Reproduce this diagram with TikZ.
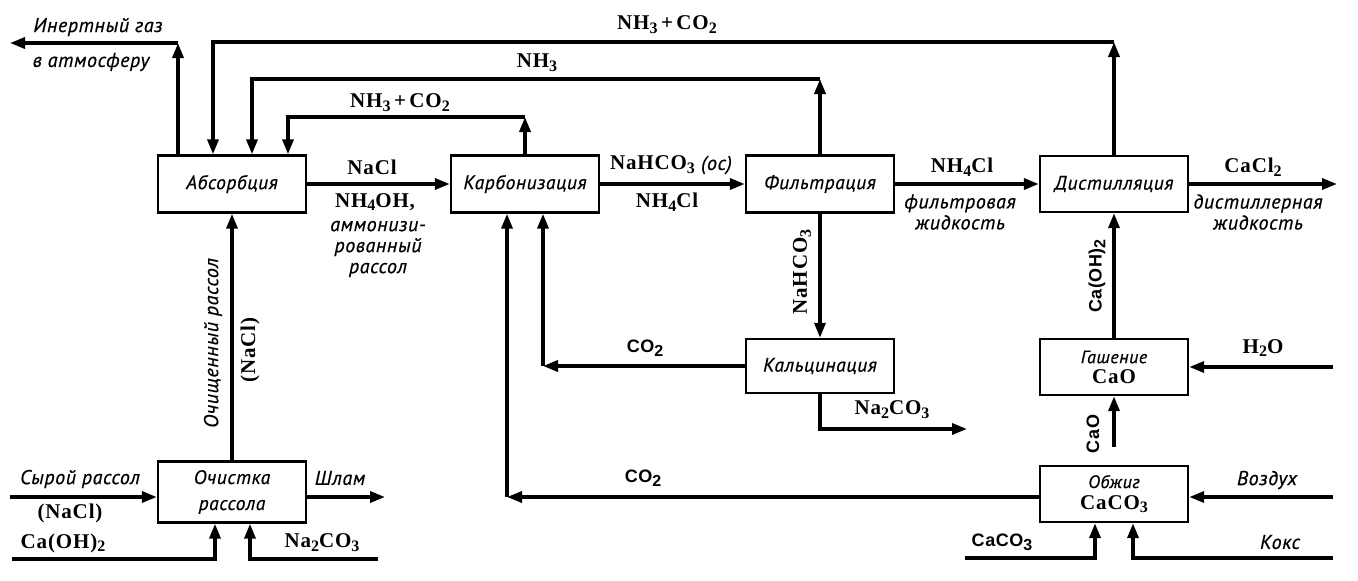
\documentclass[tikz,border=0pt]{standalone}
\usepackage{fontspec}
\setmainfont{Liberation Serif}[LetterSpace=4]
\newfontfamily\labf{PT Sans}[LetterSpace=3,FakeBold=0.5]
\newfontfamily\sfbf{Liberation Sans}[LetterSpace=3]
\usetikzlibrary{arrows.meta}
\newcommand\sbs[1]{\raisebox{-0.4ex}{\fontsize{16}{16}\selectfont #1}}
\tikzset{
  box/.style={draw, line width=2.4pt, minimum width=148pt, minimum height=57pt, inner sep=0pt, align=center, font=\labf\itshape\fontsize{19.5}{26}\selectfont},
  flow/.style={line width=3.4pt, -{Triangle[length=15pt,width=11pt]}},
  fml/.style={inner sep=0pt, font=\fontsize{21}{22}\selectfont\bfseries},
  sfml/.style={inner sep=0pt, font=\sfbf\fontsize{18}{22}\selectfont\bfseries},
  lab/.style={inner sep=0pt, align=center, font=\labf\itshape\fontsize{20}{21}\selectfont},
}
\begin{document}
\begin{tikzpicture}[x=1pt,y=-1pt]
\useasboundingbox (0,0) rectangle (1358,581);
\fill[white] (0,0) rectangle (1358,581);
% boxes
\node[box] (abs) at (232,184) {Абсорбция};
\node[box] (karb) at (525,184) {Карбонизация};
\node[box] (filt) at (820,184) {Фильтрация};
\node[box, minimum height=56pt] (dist) at (1114,184) {Дистилляция};
\node[box, minimum height=54pt] (kalc) at (820,366) {Кальцинация};
\node[box, minimum height=56pt, font=\labf\itshape\fontsize{18}{20}\selectfont] (gash) at (1114,367) {Гашение\\{\normalfont\fontsize{21}{20}\selectfont\bfseries CaO}};
\node[box, minimum height=56pt, font=\labf\itshape\fontsize{18}{21}\selectfont] (obzh) at (1114,494) {Обжиг\\{\normalfont\fontsize{21}{20}\selectfont\bfseries CaCO\sbs{3}}};
\node[box, minimum height=61pt, font=\labf\itshape\fontsize{19.5}{26}\selectfont] (ochi) at (232,492) {Очистка\\рассола};
% coordinates
\coordinate (cR1) at (1114,42);
\coordinate (cA1) at (213,42);
\coordinate (cI) at (178,43);
\coordinate (cI2) at (10,43);
\coordinate (cF) at (820,79);
\coordinate (cB) at (252,79);
\coordinate (cK) at (525,117);
\coordinate (cC) at (288,117);
\coordinate (cOut) at (1337,184);
\coordinate (cK2) at (543,366);
\coordinate (cNa) at (967,429);
\coordinate (cO) at (507,497);
\coordinate (cCaO) at (1114,447);
\coordinate (cH) at (1333,367);
\coordinate (cV) at (1333,497);
\coordinate (cKo) at (1333,558);
\coordinate (kx) at (1133,558);
\coordinate (cc1) at (965,558);
\coordinate (cc2) at (1095,558);
\coordinate (cS) at (10,497);
\coordinate (cSh) at (385,497);
\coordinate (cCa1) at (12,559);
\coordinate (cCa2) at (215,559);
\coordinate (cN1) at (378,559);
\coordinate (cN2) at (250,559);
% top loops
\draw[flow] (dist.north) -- (cR1);
\draw[flow] (cR1) -- (cA1) -- (abs.north -| cA1);
\draw[flow] (abs.north -| cI) -- (cI);
\draw[flow] (cI) -- (cI2);
\draw[flow] (filt.north) -- (cF);
\draw[flow] (cF) -- (cB) -- (abs.north -| cB);
\draw[flow] (karb.north) -- (cK);
\draw[flow] (cK) -- (cC) -- (abs.north -| cC);
% main row
\draw[flow] (abs) -- (karb);
\draw[flow] (karb) -- (filt);
\draw[flow] (filt) -- (dist);
\draw[flow] (dist.east) -- (cOut);
\draw[flow] (filt) -- (kalc);
\draw[flow] (kalc.west) -- (cK2);
\draw[flow] (cK2) -- (karb.south -| cK2);
\draw[flow] (kalc.south) |- (cNa);
\draw[flow] (obzh.west |- cO) -- (cO);
\draw[flow] (cO) -- (karb.south -| cO);
\draw[flow] (gash) -- (dist);
\draw[flow] (cCaO) -- (gash.south);
\draw[flow] (cH) -- (gash.east);
\draw[flow] (cV) -- (obzh.east |- cV);
\draw[flow] (cKo) -- (kx) -- (kx |- obzh.south);
\draw[flow] (cc1) -- (cc2) -- (cc2 |- obzh.south);
\draw[flow] (ochi) -- (abs);
\draw[flow] (cS) -- (ochi.west |- cS);
\draw[flow] (ochi.east |- cS) -- (cSh);
\draw[flow] (cCa1) -- (cCa2) -- (cCa2 |- ochi.south);
\draw[flow] (cN1) -- (cN2) -- (cN2 |- ochi.south);
% labels
\node[lab] (lInert1) at (98,27) {Инертный газ};
\node[lab] (lInert2) at (91,62) {в атмосферу};
\node[fml] (lTop) at (667,25) {NH\sbs{3}\,+\,CO\sbs{2}};
\node[fml] (lNH3) at (537,63) {NH\sbs{3}};
\node[fml] (lIn) at (400,103) {NH\sbs{3}\,+\,CO\sbs{2}};
\node[fml] (lNaCl) at (372,167) {NaCl};
\node[fml] (lNH4OH) at (375,202) {NH\sbs{4}OH,};
\node[lab] (lAmm) at (378,249) {аммонизи-\\рованный\\рассол};
\node[fml] (lNaHCO3) at (671,165) {NaHCO\sbs{3} {\labf\mdseries\itshape\fontsize{20}{20}\selectfont (ос)}};
\node[fml] (lNH4Cl1) at (667,202) {NH\sbs{4}Cl};
\node[fml] (lNH4Cl2) at (962,167) {NH\sbs{4}Cl};
\node[lab] (lFiltr) at (960,212) {фильтровая\\жидкость};
\node[fml] (lCaCl2) at (1253,167) {CaCl\sbs{2}};
\node[lab] (lDistl) at (1258,212) {дистиллерная\\жидкость};
\node[fml, rotate=90] (lNaHCO3v) at (802,272) {NaHCO\sbs{3}};
\node[sfml] (lCO2a) at (645,348) {CO\sbs{2}};
\node[fml] (lNa2CO3a) at (892,410) {Na\sbs{2}CO\sbs{3}};
\node[sfml] (lCO2b) at (643,478) {CO\sbs{2}};
\node[sfml, rotate=90] (lCaOH) at (1097,276) {Ca(OH)\sbs{2}};
\node[fml] (lH2O) at (1263,348) {H\sbs{2}O};
\node[sfml, rotate=90] (lCaOv) at (1093,434) {CaO};
\node[lab] (lVozd) at (1267,480) {Воздух};
\node[lab] (lKoks) at (1280,542) {Кокс};
\node[sfml] (lCaCO3) at (1002,542) {CaCO\sbs{3}};
\node[lab, rotate=90] (lOchi1) at (213,343) {Очищенный рассол};
\node[fml, rotate=90] (lOchi2) at (250,350) {(NaCl)};
\node[lab] (lSyr) at (80,479) {Сырой рассол};
\node[fml] (lNaCl2) at (70,513) {(NaCl)};
\node[fml] (lCaOH2) at (63,543) {Ca(OH)\sbs{2}};
\node[lab] (lShlam) at (340,478) {Шлам};
\node[fml] (lNa2CO3b) at (322,543) {Na\sbs{2}CO\sbs{3}};
\end{tikzpicture}
\end{document}
